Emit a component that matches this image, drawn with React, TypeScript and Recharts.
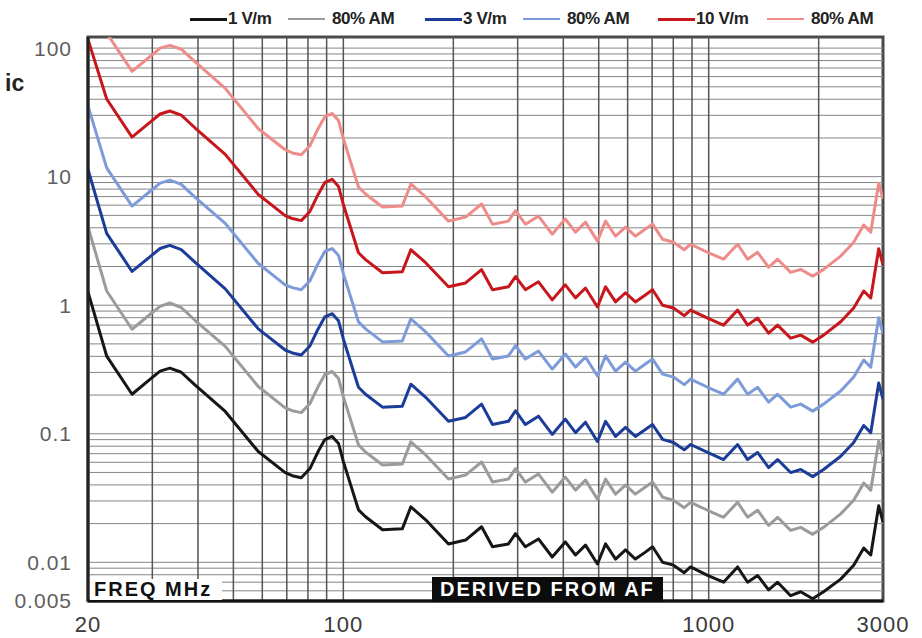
import { Line, LineChart, ReferenceArea, ReferenceLine, XAxis, YAxis } from "recharts";

// frequency (MHz) sample points
const freqs = [
  20, 22.5, 26.4, 29.6, 31.5, 33.5, 36, 39.3, 47.5, 58.5, 69.3, 72.5, 76.7, 81, 85.3, 89, 93.2, 97, 100, 110, 115,
  128, 145, 153, 168, 194, 216, 239, 256, 283, 296, 315, 342, 373, 405, 432, 460, 496, 522, 556, 592, 630, 671, 702,
  748, 801, 857, 892, 993, 1098, 1200, 1278, 1361, 1459, 1544, 1676, 1786, 1926, 2063, 2298, 2494, 2657, 2777, 2920,
  3000,
];

// 1 V/m
const v1 = [
  1.27, 0.402, 0.203, 0.266, 0.307, 0.324, 0.301, 0.239, 0.149, 0.0727, 0.0498, 0.0472, 0.0455, 0.0536, 0.0727,
  0.0902, 0.0953, 0.084, 0.0607, 0.0256, 0.0226, 0.0179, 0.0182, 0.027, 0.0214, 0.0139, 0.0149, 0.0189, 0.0132,
  0.0139, 0.0167, 0.0132, 0.0152, 0.011, 0.0144, 0.0114, 0.0136, 0.0097, 0.0139, 0.0106, 0.0125, 0.0106, 0.012,
  0.0132, 0.01, 0.0095, 0.0083, 0.0092, 0.0079, 0.007, 0.0092, 0.007, 0.0079, 0.0061, 0.007, 0.0055, 0.0059, 0.0052,
  0.0059, 0.0074, 0.0095, 0.0129, 0.0114, 0.0275, 0.0206,
];
// 1 V/m, 80% AM
const v1am = [
  4.08, 1.29, 0.65, 0.85, 0.98, 1.04, 0.96, 0.76, 0.478, 0.233, 0.159, 0.151, 0.146, 0.172, 0.233, 0.289, 0.305,
  0.269, 0.194, 0.082, 0.0722, 0.0571, 0.0582, 0.0864, 0.0684, 0.0444, 0.0477, 0.0603, 0.0421, 0.0444, 0.0535,
  0.0421, 0.0486, 0.0351, 0.046, 0.0364, 0.0436, 0.031, 0.0444, 0.0339, 0.0399, 0.0339, 0.0385, 0.0421, 0.0321,
  0.0304, 0.0266, 0.0293, 0.0254, 0.0224, 0.0293, 0.0224, 0.0254, 0.0194, 0.0224, 0.0177, 0.0187, 0.0165, 0.0187,
  0.0238, 0.0304, 0.0413, 0.0364, 0.088, 0.066,
];
// 3 V/m
const v3 = [
  11.4, 3.62, 1.83, 2.39, 2.76, 2.92, 2.71, 2.15, 1.34, 0.654, 0.448, 0.425, 0.41, 0.482, 0.654, 0.812, 0.858, 0.756,
  0.546, 0.23, 0.203, 0.161, 0.164, 0.243, 0.192, 0.125, 0.134, 0.17, 0.118, 0.125, 0.151, 0.118, 0.137, 0.0988,
  0.13, 0.102, 0.123, 0.0871, 0.125, 0.0953, 0.112, 0.0953, 0.108, 0.118, 0.0904, 0.0856, 0.075, 0.0825, 0.0715,
  0.063, 0.0825, 0.063, 0.0715, 0.0545, 0.063, 0.0499, 0.0527, 0.0464, 0.0527, 0.0669, 0.0856, 0.116, 0.102, 0.248,
  0.186,
];
// 3 V/m, 80% AM
const v3am = [
  35.5, 11.7, 5.9, 7.7, 8.9, 9.4, 8.7, 6.9, 4.33, 2.11, 1.44, 1.37, 1.32, 1.55, 2.11, 2.62, 2.76, 2.44, 1.76, 0.742,
  0.654, 0.518, 0.527, 0.783, 0.62, 0.403, 0.433, 0.547, 0.381, 0.403, 0.485, 0.381, 0.44, 0.318, 0.417, 0.33, 0.395,
  0.281, 0.403, 0.307, 0.361, 0.307, 0.349, 0.381, 0.291, 0.276, 0.241, 0.266, 0.23, 0.203, 0.266, 0.203, 0.23,
  0.176, 0.203, 0.161, 0.17, 0.15, 0.17, 0.215, 0.276, 0.374, 0.33, 0.8, 0.6,
];
// 10 V/m
const v10 = [
  117, 40.2, 20.3, 26.6, 30.7, 32.4, 30.1, 23.9, 14.9, 7.27, 4.98, 4.72, 4.55, 5.36, 7.27, 9.02, 9.53, 8.4, 6.07,
  2.56, 2.26, 1.79, 1.82, 2.7, 2.14, 1.39, 1.49, 1.89, 1.32, 1.39, 1.67, 1.32, 1.52, 1.1, 1.44, 1.14, 1.36, 0.968,
  1.39, 1.06, 1.25, 1.06, 1.2, 1.32, 1.0, 0.951, 0.83, 0.917, 0.794, 0.7, 0.917, 0.7, 0.794, 0.606, 0.7, 0.554,
  0.585, 0.516, 0.585, 0.743, 0.951, 1.29, 1.14, 2.75, 2.06,
];
// 10 V/m, 80% AM
const v10am = [
  410, 131, 66, 86, 100, 105, 98, 78, 48.6, 23.6, 16.2, 15.3, 14.8, 17.4, 23.6, 29.3, 31, 27.3, 19.7, 8.3, 7.33, 5.8,
  5.91, 8.78, 6.95, 4.51, 4.85, 6.13, 4.27, 4.51, 5.44, 4.27, 4.93, 3.57, 4.68, 3.7, 4.43, 3.15, 4.51, 3.44, 4.05,
  3.44, 3.91, 4.27, 3.26, 3.09, 2.7, 2.98, 2.58, 2.28, 2.98, 2.28, 2.58, 1.97, 2.28, 1.8, 1.9, 1.68, 1.9, 2.41, 3.09,
  4.2, 3.7, 8.9, 6.7,
];

const xTicks = [20, 100, 1000, 3000];
const yTicks = [0.005, 0.01, 0.1, 1, 10, 100];
const xGrid = [30, 40, 50, 60, 70, 80, 90, 100, 200, 300, 400, 500, 600, 700, 800, 900, 1000, 2000];
const yGrid = [
  0.006, 0.007, 0.008, 0.009, 0.01, 0.02, 0.03, 0.04, 0.05, 0.06, 0.07, 0.08, 0.09, 0.1, 0.2, 0.3, 0.4, 0.5, 0.6,
  0.7, 0.8, 0.9, 1, 2, 3, 4, 5, 6, 7, 8, 9, 10, 20, 30, 40, 50, 60, 70, 80, 90, 100,
];

const series = [
  { key: "v1", label: "1 V/m", color: "#161616", values: v1, am: false },
  { key: "v1am", label: "80% AM", color: "#9b9b9b", values: v1am, am: true },
  { key: "v3", label: "3 V/m", color: "#1b3c98", values: v3, am: false },
  { key: "v3am", label: "80% AM", color: "#7c9bd8", values: v3am, am: true },
  { key: "v10", label: "10 V/m", color: "#c8161d", values: v10, am: false },
  { key: "v10am", label: "80% AM", color: "#ee8c8a", values: v10am, am: true },
];

const data = freqs.map((f, i) => {
  const row: Record<string, number> = { f };
  series.forEach((s) => (row[s.key] = s.values[i]));
  return row;
});

const FONT = "'Liberation Sans', Arial, sans-serif";
const legendLeft = [190, 288, 425, 523, 658, 767];

export default function App() {
  return (
    <div style={{ position: "absolute", left: 0, top: 0, width: 922, height: 638, background: "#fff", fontFamily: FONT }}>
      <LineChart width={922} height={638} data={data} margin={{ top: 37, right: 39, left: 8, bottom: 7 }}>
        <XAxis
          dataKey="f"
          type="number"
          scale="log"
          domain={[20, 3000]}
          allowDataOverflow
          ticks={xTicks}
          interval={0}
          height={30}
          tickLine={false}
          tickSize={6}
          tickMargin={9}
          axisLine={{ stroke: "#111", strokeWidth: 3 }}
          tick={{ fill: "#3a3a3a", fontSize: 22, fontFamily: FONT, letterSpacing: 1 }}
        />
        <YAxis
          type="number"
          scale="log"
          domain={[0.005, 122]}
          allowDataOverflow
          ticks={yTicks}
          interval={0}
          width={80}
          tickLine={false}
          tickSize={6}
          tickMargin={10}
          axisLine={{ stroke: "#222", strokeWidth: 3 }}
          tick={{ fill: "#5e5e5e", fontSize: 21, fontFamily: FONT, letterSpacing: 1 }}
        />
        {yGrid.map((v) => (
          <ReferenceLine key={"h" + v} y={v} stroke="#858585" strokeWidth={1} />
        ))}
        {xGrid.map((v) => (
          <ReferenceLine key={"v" + v} x={v} stroke="#555" strokeWidth={1.5} />
        ))}
        {series.map((s) => (
          <Line
            key={s.key}
            dataKey={s.key}
            type="linear"
            stroke={s.color}
            strokeWidth={3}
            strokeLinejoin="round"
            dot={false}
            isAnimationActive={false}
          />
        ))}
        <ReferenceArea x1={20} x2={3000} y1={0.005} y2={122} fill="none" stroke="#4a4a4a" strokeWidth={3} />
      </LineChart>

      {/* legend */}
      <div style={{ position: "absolute", top: 9, left: 0, height: 20 }}>
        {series.map((s, i) => (
          <div
            key={s.key}
            style={{ position: "absolute", left: legendLeft[i], top: 0, display: "flex", alignItems: "center", whiteSpace: "nowrap" }}
          >
            <div style={{ width: 37, height: s.am ? 2 : 3, background: s.color, marginRight: s.am ? 7 : 1 }} />
            <span style={{ fontSize: 17, fontWeight: "bold", color: "#222", lineHeight: "20px", letterSpacing: -0.4 }}>
              {s.label}
            </span>
          </div>
        ))}
      </div>

      <div style={{ position: "absolute", left: 5, top: 70, fontSize: 23, fontWeight: "bold", color: "#222", lineHeight: "26px" }}>
        ic
      </div>

      <div
        style={{
          position: "absolute", left: 90, top: 579, width: 132, height: 21, background: "#fff",
          fontSize: 20, fontWeight: "bold", color: "#111", lineHeight: "21px", letterSpacing: 2, paddingLeft: 4, boxSizing: "border-box",
        }}
      >
        FREQ MHz
      </div>
      <div
        style={{
          position: "absolute", left: 432, top: 577, width: 231, height: 25, background: "#0c0c0c",
          fontSize: 20, fontWeight: "bold", color: "#fff", lineHeight: "25px", letterSpacing: 2, paddingLeft: 8, boxSizing: "border-box",
        }}
      >
        DERIVED FROM AF
      </div>
    </div>
  );
}
